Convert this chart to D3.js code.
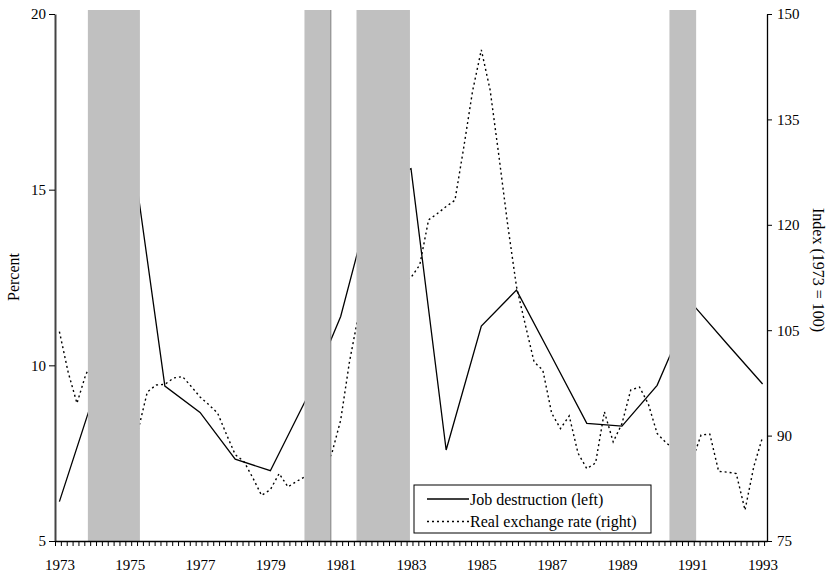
<!DOCTYPE html>
<html><head><meta charset="utf-8">
<script src="https://cdn.jsdelivr.net/npm/d3@7"></script>
<style>body{margin:0;background:#fff}svg{display:block;font-family:"Liberation Serif","Times New Roman",serif}</style>
</head><body><svg id="c" width="827" height="575"></svg>
<script>
// ---- data ----
const jdYears = [1973,1974,1975,1976,1977,1978,1979,1980,1981,1982,1983,1984,1985,1986,1987,1988,1989,1990,1991,1992,1993];
const jobDestruction = [6.12,9.2,16.6,9.41,8.66,7.33,7.0,9.0,11.39,15.2,15.6,7.59,11.12,12.14,10.25,8.35,8.27,9.43,11.75,10.6,9.47];
const rerYears = [1973,1974,1975,1976,1977,1978,1979,1980,1981,1982,1983,1984,1985,1986,1987,1988,1989,1990,1991,1992,1993];
const rerQuarterly = [
  [104.8,99.0,94.6,98.7],
  [101.0,100.0,97.0,95.0],
  [93.0,91.0,96.2,97.2],
  [97.3,98.2,98.4,97.0],
  [95.5,94.4,93.2,90.2],
  [87.3,86.3,84.0,81.5],
  [82.3,84.6,82.7,83.5],
  [84.2,84.0,85.0,87.5],
  [92.2,100.5,107.0,110.0],
  [112.0,113.0,112.0,112.0],
  [112.5,114.3,120.7,121.6],
  [122.6,123.5,131.0,139.0],
  [144.9,139.2,129.8,120.0],
  [111.2,105.8,100.5,99.3],
  [93.2,91.0,92.8,87.5],
  [85.3,86.1,93.4,89.1],
  [91.7,96.5,96.9,94.5],
  [90.3,89.0,88.0,87.0],
  [86.5,90.1,90.2,84.9],
  [84.8,84.6,79.4,85.6],
  [89.8]
];
const recessions = [[1973.81,1975.29],[1979.97,1980.72],[1981.45,1982.97],[1990.35,1991.11]];
const xLabels = [1973,1975,1977,1979,1981,1983,1985,1987,1989,1991,1993];
const leftTicks = [5,10,15,20];
const rightTicks = [75,90,105,120,135,150];
const legendNames = ["Job destruction (left)","Real exchange rate (right)"];

// ---- build series ----
const jd = jdYears.map((y,i)=>({x:y, v:jobDestruction[i]}));
const rer = [];
rerYears.forEach((y,i)=>rerQuarterly[i].forEach((v,q)=>rer.push({x:y+q/4, v})));

const svg = d3.select("#c");
const x = d3.scaleLinear().domain([1972.875,1993.125]).range([55,767]);
const yL = d3.scaleLinear().domain([5,20]).range([541,14]);
const yR = d3.scaleLinear().domain([75,150]).range([541,14]);

// lines
svg.append("path").datum(jd)
  .attr("d", d3.line().x(d=>x(d.x)).y(d=>yL(d.v)))
  .attr("fill","none").attr("stroke","#000").attr("stroke-width",1.3);
svg.append("path").datum(rer)
  .attr("d", d3.line().x(d=>x(d.x)).y(d=>yR(d.v)))
  .attr("fill","none").attr("stroke","#000").attr("stroke-width",1.4).attr("stroke-dasharray","2,3");

// recession bars (drawn over the lines)
svg.selectAll("rect.rec").data(recessions).join("rect").attr("class","rec")
  .attr("x",d=>x(d[0])).attr("width",d=>x(d[1])-x(d[0]))
  .attr("y",10).attr("height",541-10).attr("fill","#c0c0c0");
svg.append("line").attr("x1",x(recessions[1][1])).attr("x2",x(recessions[1][1]))
  .attr("y1",10).attr("y2",541).attr("stroke","#808080").attr("stroke-width",1);

// axes
const fs = "15px";
const gL = svg.append("g").attr("transform","translate(55,0)")
  .call(d3.axisLeft(yL).tickValues(leftTicks).tickSize(6).tickSizeOuter(0).tickPadding(3));
const gR = svg.append("g").attr("transform","translate(767,0)")
  .call(d3.axisRight(yR).tickValues(rightTicks).tickSize(5).tickSizeOuter(0).tickPadding(5));
const minor = d3.range(0,122).map(k=>1972.875+k/6);
const gB = svg.append("g").attr("transform","translate(0,541)")
  .call(d3.axisBottom(x).tickValues(minor).tickSize(5).tickSizeOuter(0).tickFormat(""));
const gB2 = svg.append("g").attr("transform","translate(0,541)")
  .call(d3.axisBottom(x).tickValues(xLabels).tickSize(0).tickPadding(18).tickFormat(d3.format("d")));
gB2.select(".domain").remove();
[gL,gR,gB,gB2].forEach(g=>{
  g.selectAll("text").attr("font-size",fs).attr("font-family","Liberation Serif").attr("fill","#000");
  g.selectAll("line").attr("stroke","#000");
  g.select(".domain").attr("stroke","#000");
});
gL.select(".domain").attr("stroke","#444").attr("stroke-width",2);
gR.select(".domain").attr("stroke-width",1.3);
gB.select(".domain").attr("stroke-width",1.3);

// axis titles
svg.append("text").attr("transform","translate(13,277) rotate(-90)")
  .attr("text-anchor","middle").attr("dominant-baseline","central")
  .attr("font-size","16px").text("Percent");
svg.append("text").attr("transform","translate(818,270) rotate(90)")
  .attr("text-anchor","middle").attr("dominant-baseline","central")
  .attr("font-size","16px").text("Index (1973 = 100)");

// legend
const lg = svg.append("g");
lg.append("rect").attr("x",414).attr("y",485).attr("width",237).attr("height",48)
  .attr("fill","#fff").attr("stroke","#000").attr("stroke-width",1);
legendNames.forEach((n,i)=>{
  const yy = 499 + i*22.5;
  lg.append("line").attr("x1",427).attr("x2",469).attr("y1",yy).attr("y2",yy)
    .attr("stroke","#000").attr("stroke-width",1.3)
    .attr("stroke-dasharray", i===1 ? "2,3" : null);
  lg.append("text").attr("x",470).attr("y",yy).attr("dominant-baseline","central")
    .attr("font-size","16px").text(n);
});
</script></body></html>
